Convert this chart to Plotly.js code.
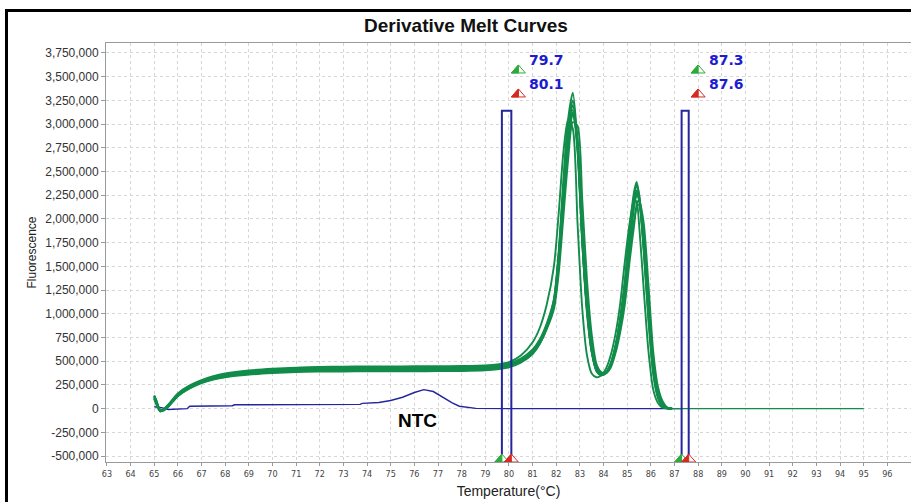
<!DOCTYPE html>
<html>
<head>
<meta charset="utf-8">
<script src="https://cdn.plot.ly/plotly-3.0.1.min.js"></script>
<style>
  html, body { margin: 0; padding: 0; background: #fff; overflow: hidden; }
  #chart { position: absolute; left: 0; top: 0; width: 911px; height: 502px; }
  #frame { position: absolute; left: 5px; top: 9px; width: 1200px; height: 1200px;
           border: 3px solid #000; pointer-events: none; }
</style>
</head>
<body>
<div id="chart"></div>
<div id="frame"></div>
<script>
// ---------- DATA ----------
// Temperature grid (°C) shared by the sample replicates
const temps = [65.0,65.1,65.25,65.4,65.6,66.0,66.5,67.0,67.5,68.0,69.0,70.0,71.0,72.0,73.0,74.0,75.0,76.0,77.0,78.0,79.0,79.5,80.0,80.5,81.0,81.3,81.6,81.9,82.1,82.3,82.5,82.7,82.9,83.1,83.3,83.5,83.7,83.9,84.1,84.3,84.5,84.7,84.9,85.1,85.3,85.4,85.5,85.7,85.9,86.1,86.3,86.5,86.7,86.9];

// Derivative fluorescence of each replicate, in thousands
const sampleA = [130,70,-20,-10,40,150,230,285,322,348,378,396,408,414,417,418,419,419,420,422,428,436,456,505,600,700,860,1100,1550,2250,2850,3150,2700,1750,1050,620,420,365,380,470,640,900,1250,1750,2150,2250,2200,1750,1050,450,150,40,5,0];
const sampleB = [100,40,-30,-15,30,140,220,275,312,336,365,382,393,398,400,401,402,402,403,405,412,422,445,492,585,690,870,1150,1650,2400,3050,3330,2800,1800,1050,600,395,352,372,470,650,950,1350,1900,2300,2390,2250,1650,920,360,110,25,3,0];
const sampleC = [120,60,-10,-20,20,130,215,278,320,350,385,405,418,425,428,429,430,431,432,434,440,448,466,512,598,690,840,1050,1420,2020,2620,3020,2980,2200,1350,780,470,385,372,430,580,800,1100,1550,1950,2150,2200,1950,1300,600,230,75,12,0];
const sampleD = [140,80,-25,-5,45,160,245,300,342,370,402,420,432,440,443,444,445,446,447,450,456,466,490,560,700,850,1100,1500,2050,2700,3050,2950,1950,1050,560,370,330,350,420,560,780,1100,1550,1950,2200,2180,1950,1250,600,200,60,10,0,0];
const sampleE = [110,50,-15,-10,35,145,225,282,318,342,372,390,402,408,410,411,412,412,413,415,421,430,450,500,600,710,880,1120,1580,2280,2950,3200,2750,1750,1000,590,400,358,382,478,660,930,1300,1800,2200,2300,2220,1700,1000,420,140,35,4,0];
const sampleF = [125,65,-20,-18,25,135,218,280,322,350,382,402,414,421,424,425,426,427,428,430,436,444,462,508,595,690,850,1080,1500,2150,2750,3100,2850,1950,1150,680,440,372,376,452,612,860,1180,1650,2000,2120,2150,1850,1150,500,180,50,6,0];
const sampleG = [135,75,-22,-12,38,155,238,292,333,360,392,412,424,431,434,435,436,437,438,440,446,455,476,528,625,730,900,1150,1600,2300,2900,3120,2780,1800,1080,640,430,368,378,462,630,890,1230,1720,2150,2280,2230,1780,1080,470,160,42,5,0];
const sampleH = [105,45,-28,-14,28,138,212,268,305,330,358,375,386,390,392,393,394,394,395,397,404,414,436,485,575,680,850,1120,1620,2350,3000,3250,2760,1780,1030,600,405,360,378,468,645,935,1320,1850,2260,2350,2270,1680,960,390,125,30,3,0];

// Green baseline continuing after the melt
const tailTemps = [86.9, 95.0];
const tailValues = [0, 0];

// No-template control (thousands)
const ntcTemps  = [65.0,65.3,65.6,66.0,66.4,66.5,68.3,68.4,70.0,72.0,73.7,73.8,74.5,75.0,75.5,76.0,76.4,76.8,77.2,77.6,77.9,78.3,78.6,80.0,87.3];
const ntcValues = [20,10,-10,-5,0,25,30,40,42,44,45,55,65,85,120,170,200,180,120,60,25,10,2,0,0];

// Melt-range markers (°C)
const markerLow  = [79.7, 87.3];
const markerHigh = [80.1, 87.6];
const markerLowText  = ['79.7', '87.3'];
const markerHighText = ['80.1', '87.6'];

// Axis ticks
const yTickVals = [-500000,-250000,0,250000,500000,750000,1000000,1250000,1500000,1750000,2000000,2250000,2500000,2750000,3000000,3250000,3500000,3750000];
const yTickText = ['-500,000','-250,000','0','250,000','500,000','750,000','1,000,000','1,250,000','1,500,000','1,750,000','2,000,000','2,250,000','2,500,000','2,750,000','3,000,000','3,250,000','3,500,000','3,750,000'];

// ---------- STYLE / LAYOUT CONSTANTS ----------
const X_RANGE = [62.96, 97.0];
const Y_RANGE = [-563000, 3855000];
const GREEN = '#128c4a';
const BLUE_LINE = '#25259e';
const BLUE_TEXT = '#1c1cd0';
const TRI_GREEN = '#2eaa3c';
const TRI_RED = '#d42a22';
const MARKER_TOP = 3140000;
const IND_ROW1 = 3539000;
const IND_ROW2 = 3286000;
const IND_OFFSET = 0.7;
const NTC_LABEL_X = 76.13, NTC_LABEL_Y = -126000;

const K = v => v * 1000;

const samples = [sampleA, sampleB, sampleC, sampleD, sampleE, sampleF, sampleG, sampleH];
const traces = [];

traces.push({
  x: ntcTemps, y: ntcValues.map(K), type: 'scatter', mode: 'lines',
  line: {color: BLUE_LINE, width: 1.4}, hoverinfo: 'skip'
});
samples.forEach(s => {
  traces.push({
    x: temps, y: s.map(K), type: 'scatter', mode: 'lines',
    line: {color: GREEN, width: 1.9, shape: 'spline', smoothing: 0.7}, hoverinfo: 'skip'
  });
});
traces.push({
  x: tailTemps, y: tailValues.map(K), type: 'scatter', mode: 'lines',
  line: {color: GREEN, width: 1.4}, hoverinfo: 'skip'
});

// ---------- SHAPES ----------
const shapes = [];
function triangle(xv, yv, color) {
  shapes.push({type: 'path', xref: 'x', yref: 'y', xsizemode: 'pixel', ysizemode: 'pixel',
    xanchor: xv, yanchor: yv, path: 'M-7,0 L0,8 L7,0 Z', fillcolor: '#ffffff',
    line: {color: color, width: 1}, layer: 'above'});
  shapes.push({type: 'path', xref: 'x', yref: 'y', xsizemode: 'pixel', ysizemode: 'pixel',
    xanchor: xv, yanchor: yv, path: 'M-7,0 L0,8 L0,0 Z', fillcolor: color,
    line: {color: color, width: 1}, layer: 'above'});
}
const annotations = [];
markerLow.forEach((lo, i) => {
  const hi = markerHigh[i];
  shapes.push({type: 'rect', xref: 'x', yref: 'y', x0: lo, x1: hi, y0: Y_RANGE[0], y1: MARKER_TOP,
    line: {color: BLUE_LINE, width: 2}, fillcolor: 'rgba(0,0,0,0)', layer: 'above'});
  triangle(lo, Y_RANGE[0], TRI_GREEN);
  triangle(hi, Y_RANGE[0], TRI_RED);
  const ix = lo + IND_OFFSET;
  triangle(ix, IND_ROW1, TRI_GREEN);
  triangle(ix, IND_ROW2, TRI_RED);
  annotations.push({x: ix, y: IND_ROW1, xref: 'x', yref: 'y', text: markerLowText[i],
    showarrow: false, xanchor: 'left', yanchor: 'middle', xshift: 9, yshift: 13,
    font: {family: 'DejaVu Sans', size: 14, color: BLUE_TEXT, weight: 'bold'}});
  annotations.push({x: ix, y: IND_ROW2, xref: 'x', yref: 'y', text: markerHighText[i],
    showarrow: false, xanchor: 'left', yanchor: 'middle', xshift: 9, yshift: 13,
    font: {family: 'DejaVu Sans', size: 14, color: BLUE_TEXT, weight: 'bold'}});
});
annotations.push({x: NTC_LABEL_X, y: NTC_LABEL_Y, xref: 'x', yref: 'y', text: '<b>NTC</b>',
  showarrow: false, xanchor: 'center', yanchor: 'middle',
  font: {family: 'Liberation Sans', size: 19, color: '#000'}});

const layout = {
  width: 911, height: 502,
  margin: {l: 106, r: 0, t: 43, b: 40},
  paper_bgcolor: '#ffffff', plot_bgcolor: '#ffffff',
  showlegend: false,
  title: {text: '<b>Derivative Melt Curves</b>', xref: 'container', yref: 'container',
    x: 0.5115, y: 0.950, xanchor: 'center', yanchor: 'middle',
    font: {family: 'Liberation Sans', size: 19, color: '#111'}},
  xaxis: {
    range: X_RANGE, tick0: 63, dtick: 1, tickmode: 'linear',
    showgrid: true, gridcolor: '#d6d6d6', griddash: '3px,3px', gridwidth: 1,
    zeroline: false, showline: true, linecolor: '#9a9a9a', linewidth: 1, mirror: true,
    ticks: 'outside', ticklen: 3, tickcolor: '#9a9a9a',
    tickfont: {family: 'DejaVu Sans Condensed, DejaVu Sans', size: 9, color: '#444'},
    title: {text: 'Temperature(°C)', standoff: 8,
      font: {family: 'Liberation Sans', size: 14, color: '#222'}},
    automargin: false, fixedrange: true
  },
  yaxis: {
    range: Y_RANGE, tickmode: 'array', tickvals: yTickVals, ticktext: yTickText,
    showgrid: true, gridcolor: '#d6d6d6', griddash: '3px,3px', gridwidth: 1,
    zeroline: false, showline: true, linecolor: '#9a9a9a', linewidth: 1,
    ticks: 'outside', ticklen: 4, tickcolor: '#9a9a9a',
    tickfont: {family: 'Liberation Sans', size: 12, color: '#333'},
    title: {text: 'Fluorescence', standoff: 6,
      font: {family: 'Liberation Sans Narrow, Liberation Sans', size: 12, color: '#222'}},
    automargin: false, fixedrange: true
  },
  shapes: shapes,
  annotations: annotations
};

Plotly.newPlot('chart', traces, layout, {staticPlot: true, displayModeBar: false});
</script>
</body>
</html>
